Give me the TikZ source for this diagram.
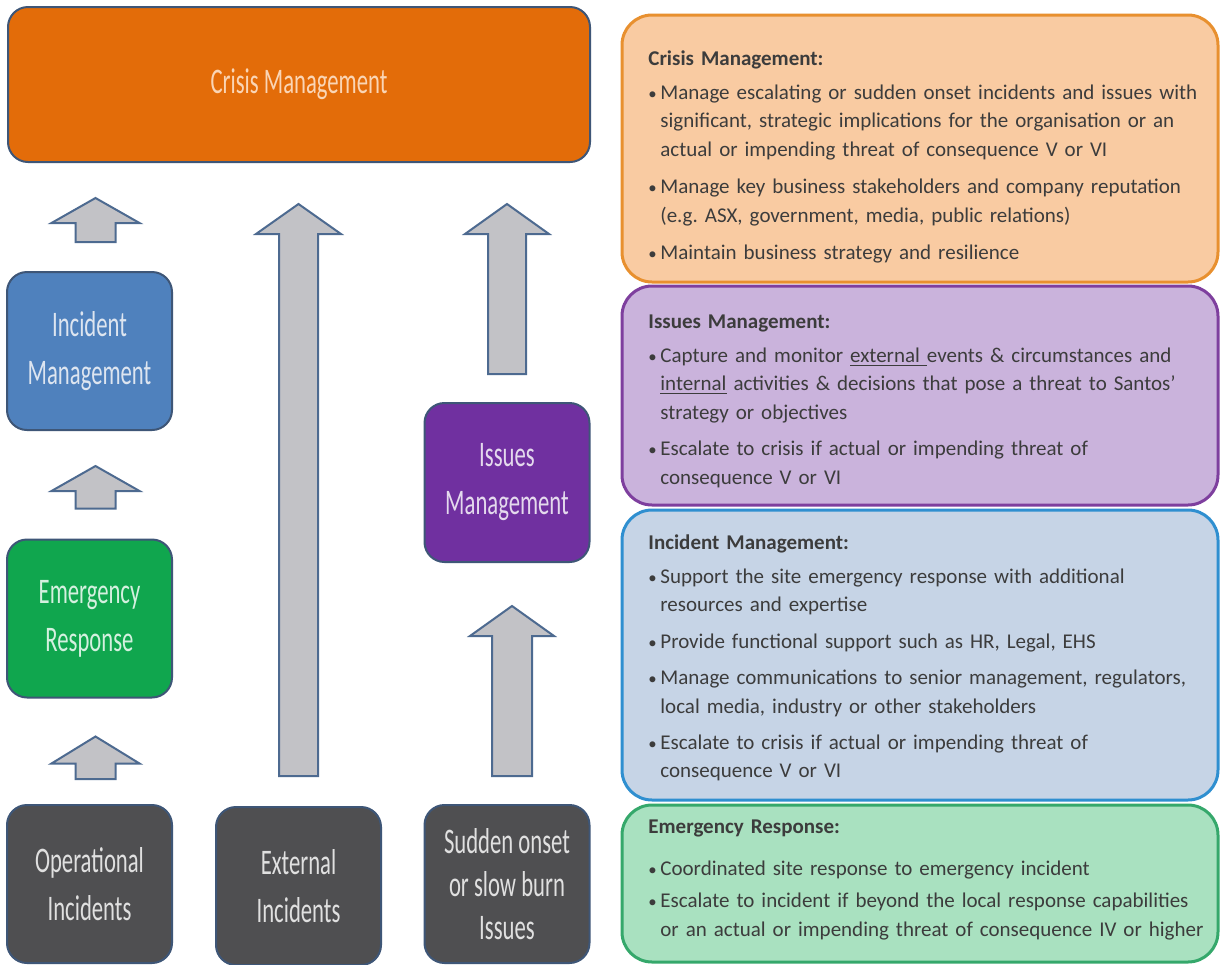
\documentclass[tikz,border=0pt]{standalone}
\usepackage{fontspec}
\setmainfont{Carlito}
\newfontfamily\boxfont[FakeStretch=0.63]{Carlito}
\usetikzlibrary{positioning, calc}

\definecolor{crisisOrange}{HTML}{E36C09}
\definecolor{incidBlue}{HTML}{4F81BD}
\definecolor{emergGreen}{HTML}{10A64E}
\definecolor{issuesPurple}{HTML}{7030A0}
\definecolor{sourceGrey}{HTML}{4F4F51}
\definecolor{boxEdge}{HTML}{3E5677}
\definecolor{arrowFill}{HTML}{C2C2C6}
\definecolor{arrowEdge}{HTML}{4D6A90}
\definecolor{crisisLight}{HTML}{F9CBA2}
\definecolor{crisisLine}{HTML}{E8902F}
\definecolor{issuesLight}{HTML}{CAB3DC}
\definecolor{issuesLine}{HTML}{7E3F9E}
\definecolor{incidLight}{HTML}{C6D4E6}
\definecolor{incidLine}{HTML}{2F8FD0}
\definecolor{emergLight}{HTML}{A9E1C0}
\definecolor{emergLine}{HTML}{35A86B}
\definecolor{infoInk}{HTML}{3C3C3C}

\newcommand{\bul}{\makebox[6pt][l]{\scalebox{0.8}{•}}}
\newcommand{\cont}{\hspace*{6pt}}
% block arrow: base, tip, shaft half, head half, head length
\newcommand{\blockarrow}[5]{%
  \draw[blockarr] let \p1=(#1), \p2=(#2) in
    (\x1-#3,\y1) -- (\x1-#3,\y2-#5) -- (\x1-#4,\y2-#5) -- (\x1,\y2)
    -- (\x1+#4,\y2-#5) -- (\x1+#3,\y2-#5) -- (\x1+#3,\y1) -- cycle;}

\tikzset{
  lbox/.style={rectangle, rounded corners=10pt, draw=boxEdge, line width=1pt,
    align=center, inner sep=0pt, minimum width=82.5pt, minimum height=79pt,
    font=\boxfont\fontsize{18}{24}\selectfont},
  infobox/.style={rectangle, rounded corners=15pt, line width=1.5pt,
    minimum width=298pt},
  infotext/.style={anchor=north west, inner sep=0pt, text width=290pt,
    align=left, text=infoInk, font=\fontsize{10.5}{14.2}\selectfont},
  blockarr/.style={draw=arrowEdge, fill=arrowFill, line width=1pt, line join=miter},
}

\begin{document}
\begin{tikzpicture}[x=0.5pt, y=-0.5pt]
\useasboundingbox[fill=white] (0,0) rectangle (1223,965);

% description panels on the right
\node[infobox, draw=crisisLine, fill=crisisLight, minimum height=133.5pt] (crisisInfo) at (920,148.5) {};
\node[infobox, draw=issuesLine, fill=issuesLight, minimum height=109.5pt] (issuesInfo) at (920,395.5) {};
\node[infobox, draw=incidLine, fill=incidLight, minimum height=145pt] (incidInfo) at (920,655) {};
\node[infobox, draw=emergLine, fill=emergLight, minimum height=78.5pt] (emergInfo) at (920,883.5) {};

\node[infotext] (crisisTxt) at (648,50) {\textbf{Crisis Management:}\\[3pt]
  \bul Manage escalating or sudden onset incidents and issues with\\
  \cont significant, strategic implications for the organisation or an\\
  \cont actual or impending threat of consequence V or VI\\[4.5pt]
  \bul Manage key business stakeholders and company reputation\\
  \cont (e.g.\ ASX, government, media, public relations)\\[4.5pt]
  \bul Maintain business strategy and resilience};
\node[infotext] (issuesTxt) at (648,314) {\textbf{Issues Management:}\\[3pt]
  \bul Capture and monitor \underline{external\ }events \& circumstances and\\
  \cont \underline{internal} activities \& decisions that pose a threat to Santos’\\
  \cont strategy or objectives\\[4pt]
  \bul Escalate to crisis if actual or impending threat of\\
  \cont consequence V or VI};
\node[infotext] (incidTxt) at (648,534) {\textbf{Incident Management:}\\[3pt]
  \bul Support the site emergency response with additional\\
  \cont resources and expertise\\[4pt]
  \bul Provide functional support such as HR, Legal, EHS\\[4pt]
  \bul Manage communications to senior management, regulators,\\
  \cont local media, industry or other stakeholders\\[4pt]
  \bul Escalate to crisis if actual or impending threat of\\
  \cont consequence V or VI};
\node[infotext] (emergTxt) at (648,819) {\textbf{Emergency Response:}\\[7pt]
  \bul Coordinated site response to emergency incident\\[2pt]
  \bul Escalate to incident if beyond the local response capabilities\\
  \cont or an actual or impending threat of consequence IV or higher};

% levels on the left
\node[lbox, fill=crisisOrange, text=crisisLight!80!white, minimum width=291pt, minimum height=77.5pt] (crisis) at (299,84.5) {Crisis Management};
\node[lbox, fill=incidBlue, text=incidLight!60!white] (incid) at (89.5,351) {Incident\\Management};
\node[lbox, fill=emergGreen, text=emergLight!50!white] (emerg) at (89.5,618.5) {Emergency\\Response};
\node[lbox, fill=issuesPurple, text=issuesLight!50!white, minimum height=79.5pt] (issues) at (507,482.5) {Issues\\Management};
\node[lbox, fill=sourceGrey, text=white!88!black] (opInc) at (89.5,884) {Operational\\Incidents};
\node[lbox, fill=sourceGrey, text=white!88!black] (extInc) at (298.5,886) {External\\Incidents};
\node[lbox, fill=sourceGrey, text=white!88!black, font=\boxfont\fontsize{18}{21.5}\selectfont] (sudden) at (507,884) {Sudden onset\\or slow burn\\Issues};

% escalation arrows
\coordinate (opBase) at ($(opInc.north)+(6,-25)$);
\coordinate (opTip) at ($(emerg.south)+(6,38)$);
\coordinate (emBase) at ($(emerg.north)+(6,-30)$);
\coordinate (emTip) at ($(incid.south)+(6,35)$);
\coordinate (inBase) at ($(incid.north)+(6,-29)$);
\coordinate (inTip) at ($(crisis.south)+(0,35)$);
\coordinate (exBase) at ($(extInc.north)+(0,-30)$);
\coordinate (exTip) at ($(crisis.south)+(0,41)$);
\coordinate (isBase) at ($(issues.north)+(0,-28)$);
\coordinate (suBase) at ($(sudden.north)+(5,-28)$);
\coordinate (suTip) at ($(issues.south)+(5,43)$);

\blockarrow{opBase}{opTip}{10pt}{22pt}{13.5pt}
\blockarrow{emBase}{emTip}{10pt}{22pt}{12.5pt}
\blockarrow{inBase}{inTip}{10pt}{22pt}{12.5pt}
\blockarrow{exBase}{exTip}{9.75pt}{21.25pt}{15pt}
\blockarrow{isBase}{exTip}{9.5pt}{21pt}{15pt}
\blockarrow{suBase}{suTip}{10pt}{21pt}{15pt}
\end{tikzpicture}
\end{document}
